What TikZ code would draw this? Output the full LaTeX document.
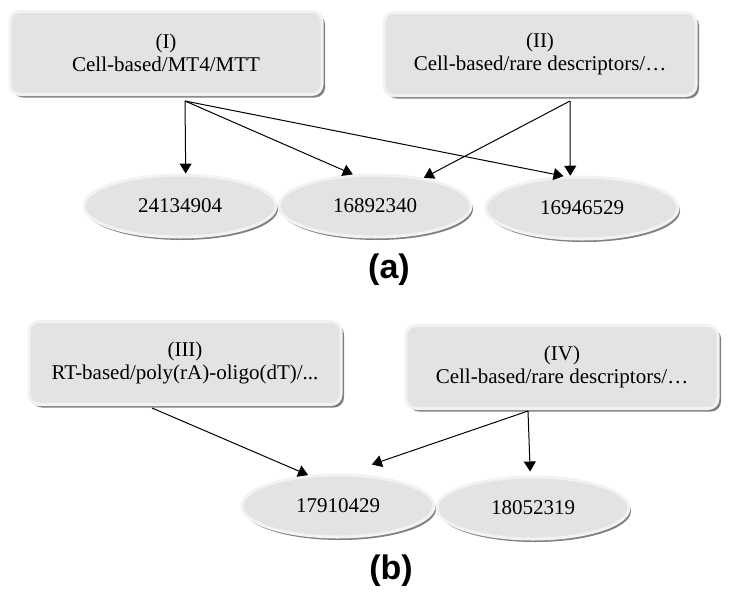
\documentclass[tikz,border=0pt]{standalone}
\usepackage{fontspec}
\setmainfont{Liberation Serif}
\newfontfamily\panelfont{Liberation Sans}
\usetikzlibrary{shapes.geometric,shadows,arrows.meta}
\definecolor{boxfill}{gray}{0.89}
\definecolor{boxrim}{gray}{0.95}
\definecolor{boxshade}{gray}{0.5}

\begin{document}
\begin{tikzpicture}[x=1pt,y=-1pt,
  method/.style={rectangle,rounded corners=10pt,fill=boxfill,draw=boxrim,line width=3pt,
    drop shadow={shadow xshift=3pt,shadow yshift=-3pt,fill=boxshade,opacity=1},
    minimum width=312pt,minimum height=83pt,align=center,
    font=\fontsize{21}{23}\selectfont},
  compound/.style={ellipse,fill=boxfill,draw=boxrim,line width=3pt,
    drop shadow={shadow xshift=2pt,shadow yshift=-3pt,fill=boxshade,opacity=1},
    minimum width=192pt,minimum height=62pt,font=\fontsize{21}{23}\selectfont},
  panel/.style={font=\panelfont\bfseries\fontsize{34}{36}\selectfont},
  link/.style={line width=1pt,-{Triangle[width=12pt,length=10pt]}}]
\useasboundingbox (0,0) rectangle (730,600);
% (a)
\node[method] (I) at (166,53) {(I)\\Cell-based/MT4/MTT};
\node[method] (II) at (540,54) {(II)\\Cell-based/rare descriptors/…};
\node[compound] (c1) at (180,206) {24134904};
\node[compound] (c2) at (375,206) {16892340};
\node[compound] (c3) at (582,208) {16946529};
\coordinate (Iout) at (185,101);
\coordinate (IIout) at (570,101);
\draw[link] (Iout) -- (c1.80);
\draw[link] (Iout) -- (c2.125);
\draw[link] (Iout) -- (c3.120);
\draw[link] (IIout) -- (c2.30);
\draw[link] (IIout) -- (c3.110);
\node[panel] (pa) at (389,270) {(a)};
% (b)
\node[method] (III) at (185,363) {(III)\\RT-based/poly(rA)-oligo(dT)/...};
\node[method] (IV) at (562,367) {(IV)\\Cell-based/rare descriptors/…};
\node[compound] (c4) at (338,506) {17910429};
\node[compound] (c5) at (533,508) {18052319};
\coordinate (IIIout) at (152,408);
\coordinate (IVout) at (528,411);
\draw[link] (IIIout) -- (c4.134);
\draw[link] (IVout) -- ([yshift=11pt]c4.42);
\draw[link] (IVout) -- ([yshift=4pt]c5.95);
\node[panel] (pb) at (391,571) {(b)};
\end{tikzpicture}
\end{document}
